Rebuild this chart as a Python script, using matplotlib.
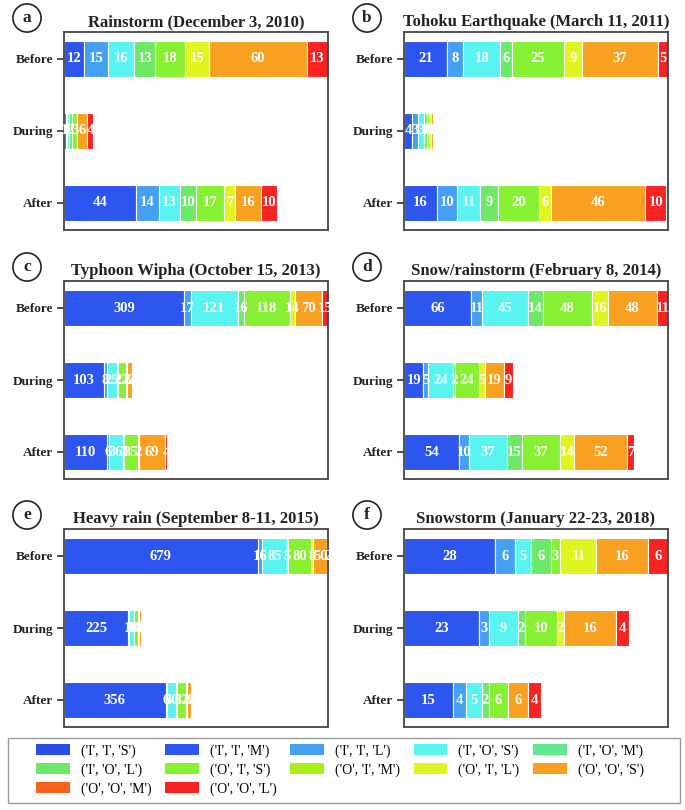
import matplotlib
matplotlib.use('Agg')
import matplotlib.pyplot as plt
from matplotlib.patches import Patch, Rectangle

plt.rcParams['font.family'] = ['Liberation Serif', 'DejaVu Serif']

# 12 trip categories, same order as the legend
CATEGORIES = [('I', 'I', 'S'), ('I', 'I', 'M'), ('I', 'I', 'L'), ('I', 'O', 'S'),
              ('I', 'O', 'M'), ('I', 'O', 'L'), ('O', 'I', 'S'), ('O', 'I', 'M'),
              ('O', 'I', 'L'), ('O', 'O', 'S'), ('O', 'O', 'M'), ('O', 'O', 'L')]
COLORS = ['#2a4ee2', '#2c56ee', '#45a0f2', '#5af4f0', '#62e890', '#6ee868',
          '#88f032', '#aaf018', '#e0f420', '#f8a020', '#f8601e', '#f82222']
PERIODS = ['Before', 'During', 'After']

# counts per period (rows: Before, During, After; columns: CATEGORIES)
RAIN_2010 = [[0, 12, 15, 16, 0, 13, 18, 0, 15, 60, 0, 13],
             [0, 1, 1, 1, 0, 2, 3, 0, 0, 6, 0, 4],
             [0, 44, 14, 13, 0, 10, 17, 0, 7, 16, 0, 10]]
QUAKE_2011 = [[0, 21, 8, 18, 0, 6, 25, 0, 9, 37, 0, 5],
              [0, 4, 3, 3, 0, 1, 1, 0, 1, 1, 0, 0],
              [0, 16, 10, 11, 0, 9, 20, 0, 6, 46, 0, 10]]
TYPHOON_2013 = [[0, 309, 17, 121, 0, 16, 118, 0, 14, 70, 0, 15],
                [0, 103, 8, 25, 0, 2, 22, 0, 3, 12, 0, 4],
                [0, 110, 6, 36, 0, 3, 35, 0, 2, 69, 0, 4]]
SNOWRAIN_2014 = [[0, 66, 11, 45, 0, 14, 48, 0, 16, 48, 0, 11],
                 [0, 19, 5, 24, 0, 2, 24, 0, 5, 19, 0, 9],
                 [0, 54, 10, 37, 0, 15, 37, 0, 14, 52, 0, 7]]
HEAVYRAIN_2015 = [[0, 679, 16, 85, 0, 5, 80, 0, 8, 50, 0, 2],
                  [0, 225, 3, 16, 0, 3, 14, 0, 2, 6, 0, 0],
                  [0, 356, 6, 30, 0, 5, 32, 0, 2, 14, 0, 2]]
SNOW_2018 = [[0, 28, 6, 5, 0, 6, 3, 0, 11, 16, 0, 6],
             [0, 23, 3, 9, 0, 2, 10, 0, 2, 16, 0, 4],
             [0, 15, 4, 5, 0, 2, 6, 0, 0, 6, 0, 4]]

PANELS = [('a', 'Rainstorm (December 3, 2010)', RAIN_2010),
          ('b', 'Tohoku Earthquake (March 11, 2011)', QUAKE_2011),
          ('c', 'Typhoon Wipha (October 15, 2013)', TYPHOON_2013),
          ('d', 'Snow/rainstorm (February 8, 2014)', SNOWRAIN_2014),
          ('e', 'Heavy rain (September 8-11, 2015)', HEAVYRAIN_2015),
          ('f', 'Snowstorm (January 22-23, 2018)', SNOW_2018)]

W, H = 685, 810
fig = plt.figure(figsize=(W / 100, H / 100), dpi=100)

lefts = [64, 404]
tops = [32, 281, 529]
ax_w, ax_h = 264, 198

for i, (letter, title, data) in enumerate(PANELS):
    col, row = i % 2, i // 2
    l, t = lefts[col], tops[row]
    ax = fig.add_axes([l / W, 1 - (t + ax_h) / H, ax_w / W, ax_h / H])
    ypos = [2, 1, 0]
    totals = []
    for p, vals in enumerate(data):
        left = 0
        for c, v in enumerate(vals):
            if v == 0:
                continue
            ax.barh(ypos[p], v, left=left, height=0.5, color=COLORS[c],
                    edgecolor='white', linewidth=0.8)
            ax.text(left + v / 2, ypos[p], str(v), ha='center', va='center',
                    color='white', fontsize=10.5, fontweight='bold')
            left += v
        totals.append(left)
    ax.set_xlim(0, max(totals))
    ax.set_ylim(-0.375, 2.375)
    ax.set_yticks(ypos)
    ax.set_yticklabels(PERIODS, fontsize=9.5, fontweight='bold', color='#222222')
    ax.set_xticks([])
    ax.tick_params(axis='y', length=5, width=1.2, color='#333333', pad=3)
    for s in ax.spines.values():
        s.set_color('#444444')
        s.set_linewidth(1.3)
    # title and panel letter
    fig.text((l + ax_w / 2) / W, 1 - (t - 10) / H, title, ha='center', va='center',
             fontsize=12, fontweight='bold', color='#222222')
    fig.text((l - 37) / W, 1 - (t - 14) / H, letter, ha='center', va='center',
             fontsize=12.5, fontweight='bold', color='#222222',
             bbox=dict(boxstyle='circle,pad=0.35', fc='white', ec='#222222', lw=1.2))

# frame of the legend box
fig.patches.append(Rectangle((8 / W, 1 - 803 / H), 672 / W, 65 / H,
                             transform=fig.transFigure, fill=False,
                             edgecolor='#999999', linewidth=1.0))

# legend is filled column by column, so reorder to read row by row
order = [0, 5, 10, 1, 6, 11, 2, 7, 3, 8, 4, 9]
handles = [Patch(facecolor=COLORS[k], edgecolor='none', label=str(CATEGORIES[k]))
           for k in order]
leg = fig.legend(handles=handles, loc='center', ncol=5, mode='expand',
                 bbox_to_anchor=(32 / W, 1 - 800 / H, 616 / W, 60 / H),
                 fontsize=10, frameon=False,
                 handlelength=2.4, handleheight=0.8, borderaxespad=0,
                 borderpad=0.3, labelspacing=0.4, columnspacing=1.0)

plt.savefig('out.png', dpi=100)
